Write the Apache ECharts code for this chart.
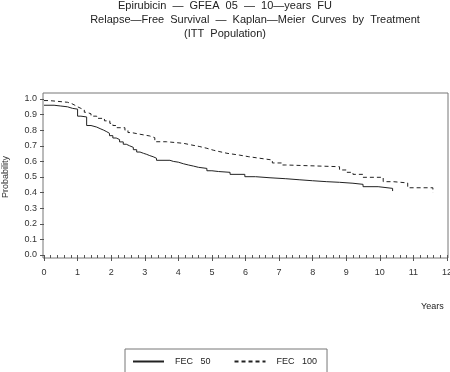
<!DOCTYPE html>
<html><head><meta charset="utf-8">
<script src="https://cdn.jsdelivr.net/npm/echarts@6/dist/echarts.min.js"></script>
<style>html,body{margin:0;padding:0;background:#fff}#c{width:450px;height:372px}</style>
</head><body><div id="c"></div>
<script>
const titleLines = ["Epirubicin  —  GFEA  05  —  10—years  FU", "Relapse—Free  Survival  —  Kaplan—Meier  Curves  by  Treatment", "(ITT  Population)"];
const seriesNames = ["FEC   50", "FEC   100"];
const fec50 = [[0,0.96],[0.3,0.955],[0.5,0.95],[0.7,0.94],[0.85,0.935],[1.0,0.89],[1.1,0.885],[1.27,0.83],[1.4,0.82],[1.57,0.81],[1.67,0.80],[1.78,0.79],[1.87,0.78],[1.95,0.765],[2.05,0.75],[2.15,0.74],[2.25,0.725],[2.36,0.71],[2.45,0.70],[2.55,0.69],[2.66,0.675],[2.76,0.66],[2.86,0.652],[2.96,0.645],[3.06,0.637],[3.15,0.63],[3.25,0.62],[3.35,0.607],[3.75,0.60],[3.85,0.595],[4.0,0.585],[4.15,0.577],[4.3,0.57],[4.45,0.562],[4.6,0.555],[4.85,0.54],[5.0,0.535],[5.2,0.53],[5.54,0.517],[5.98,0.502],[6.3,0.495],[6.73,0.489],[7.2,0.482],[7.62,0.476],[8.0,0.47],[8.42,0.466],[8.8,0.46],[9.2,0.453],[9.5,0.438],[9.95,0.427],[10.38,0.41]];
const fec100 = [[0,0.99],[0.15,0.979],[0.7,0.97],[0.83,0.96],[0.92,0.95],[1.0,0.94],[1.1,0.93],[1.2,0.915],[1.27,0.905],[1.4,0.89],[1.57,0.876],[1.8,0.86],[1.96,0.844],[2.05,0.83],[2.17,0.816],[2.41,0.80],[2.5,0.785],[2.6,0.774],[2.86,0.763],[3.15,0.752],[3.3,0.726],[3.65,0.716],[4.15,0.705],[4.4,0.695],[4.64,0.684],[4.85,0.672],[5.04,0.662],[5.24,0.652],[5.45,0.64],[5.83,0.63],[6.1,0.62],[6.43,0.609],[6.8,0.59],[7.1,0.577],[7.2,0.566],[8.8,0.545],[9.0,0.53],[9.2,0.517],[9.5,0.498],[10.1,0.47],[10.4,0.462],[10.83,0.431],[11.58,0.40]];
const xLabel = "Years";
const yLabel = "Probability";

const FONT = "'Liberation Sans', Arial, sans-serif";
const chart = echarts.init(document.getElementById('c'), null, {renderer: 'canvas'});
const titleTops = [0, 14, 28];
const titleCenters = [225, 255, 225];
chart.setOption({
  animation: false,
  backgroundColor: '#fff',
  title: titleLines.map((t, i) => ({
    text: t, left: titleCenters[i], top: titleTops[i], textAlign: 'center', padding: 0,
    textStyle: {fontFamily: FONT, fontSize: 11, fontWeight: 'normal', color: '#222'}
  })).concat([{
    text: xLabel, left: 421, top: 302, padding: 0,
    textStyle: {fontFamily: FONT, fontSize: 9, fontWeight: 'normal', color: '#222'}
  }]),
  legend: {
    left: 125, top: 349, padding: [8, 10, 8, 7], itemGap: 23, itemWidth: 31, itemHeight: 10,
    borderColor: '#777', borderWidth: 1,
    itemStyle: {opacity: 0},
    textStyle: {fontFamily: FONT, fontSize: 9, color: '#222', padding: [0, 0, 0, 6]},
    data: seriesNames
  },
  grid: [
    {left: 44, right: 3, top: 99, bottom: 117, show: false, containLabel: false, outerBoundsMode: 'none'},
    {left: 43, right: 2, top: 93, bottom: 114, show: true, borderColor: '#777', borderWidth: 1, backgroundColor: 'transparent', containLabel: false, outerBoundsMode: 'none'}
  ],
  xAxis: [
    {type: 'value', gridIndex: 0, min: 0, max: 12, interval: 1, offset: 3,
     axisLine: {show: false}, splitLine: {show: false},
     axisTick: {show: true, length: 6, lineStyle: {color: '#555'}},
     minorTick: {show: true, splitNumber: 5, length: 3, lineStyle: {color: '#555'}},
     axisLabel: {fontFamily: FONT, fontSize: 9, color: '#333', margin: 10}},
    {type: 'value', gridIndex: 1, min: 0, max: 1, show: false}
  ],
  yAxis: [
    {type: 'value', gridIndex: 0, min: 0, max: 1, interval: 0.1, offset: 1,
     axisLine: {show: false}, splitLine: {show: false},
     axisTick: {show: true, length: 4, lineStyle: {color: '#555'}},
     axisLabel: {fontFamily: FONT, fontSize: 9, color: '#333', margin: 6, formatter: v => v.toFixed(1)},
     name: yLabel, nameLocation: 'middle', nameGap: 33, nameRotate: 90,
     nameTextStyle: {fontFamily: FONT, fontSize: 9, color: '#333'}},
    {type: 'value', gridIndex: 1, min: 0, max: 1, show: false}
  ],
  series: [
    {name: seriesNames[0], type: 'line', step: 'end', xAxisIndex: 0, yAxisIndex: 0, symbol: 'none',
     data: fec50, lineStyle: {color: '#222', width: 1, type: 'solid'}, itemStyle: {color: '#222'}},
    {name: seriesNames[1], type: 'line', step: 'end', xAxisIndex: 0, yAxisIndex: 0, symbol: 'none',
     data: fec100, lineStyle: {color: '#222', width: 1, type: [4, 3]}, itemStyle: {color: '#222'}}
  ]
});
</script></body></html>
